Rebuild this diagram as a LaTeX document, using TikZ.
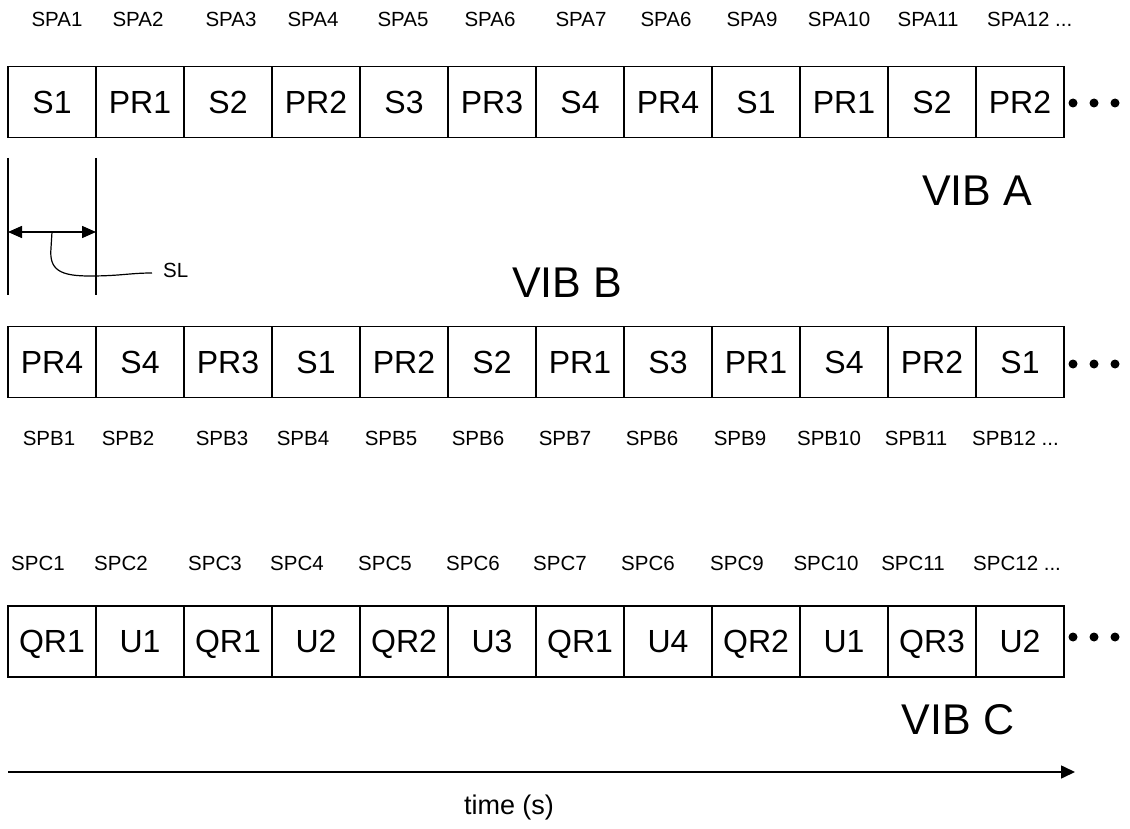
\documentclass[tikz,border=0pt]{standalone}
\usepackage{fontspec}
\setmainfont{Liberation Sans}
\usetikzlibrary{arrows.meta}
\begin{document}
\begin{tikzpicture}[x=1pt,y=-1pt,
  cell/.style={draw,line width=1.8pt,minimum width=88pt,minimum height=71pt,inner sep=0pt,text height=22.5pt,text depth=0pt,font=\fontsize{32}{32}\selectfont},
  lab/.style={font=\fontsize{20.5}{20.5}\selectfont,inner sep=0pt},
  vib/.style={font=\fontsize{43}{43}\selectfont,inner sep=0pt},
  dotnode/.style={circle,fill=black,inner sep=0pt,minimum size=9pt},
  conn/.style={line width=1.6pt}]
\useasboundingbox (0,0) rectangle (1130,829);
% Row A
\foreach \t [count=\i] in {S1,PR1,S2,PR2,S3,PR3,S4,PR4,S1,PR1,S2,PR2}
  \node[cell] (a\i) at ({52+88*(\i-1)},102) {\t};
% Row B
\foreach \t [count=\i] in {PR4,S4,PR3,S1,PR2,S2,PR1,S3,PR1,S4,PR2,S1}
  \node[cell] (b\i) at ({52+88*(\i-1)},362) {\t};
% Row C
\foreach \t [count=\i] in {QR1,U1,QR1,U2,QR2,U3,QR1,U4,QR2,U1,QR3,U2}
  \node[cell] (c\i) at ({52+88*(\i-1)},641.5) {\t};
% dots
\foreach \x [count=\i] in {1073,1094,1115}{
  \node[dotnode] (ad\i) at (\x,103) {};
  \node[dotnode] (bd\i) at (\x,364) {};
  \node[dotnode] (cd\i) at (\x,637) {};
}
% SPA labels
\foreach \x/\t [count=\i] in {57/SPA1,138/SPA2,231/SPA3,313/SPA4,403/SPA5,490/SPA6,581/SPA7,666/SPA6,752/SPA9,839/SPA10,928/SPA11}
  \node[lab] (spa\i) at (\x,19) {\t};
\node[lab,anchor=west] (spa12) at (987,19) {SPA12 ...};
% SPB labels
\foreach \x/\t [count=\i] in {49/SPB1,128/SPB2,222/SPB3,303/SPB4,391/SPB5,478/SPB6,565/SPB7,652/SPB6,740/SPB9,829/SPB10,916/SPB11}
  \node[lab] (spb\i) at (\x,438) {\t};
\node[lab,anchor=west] (spb12) at (972,438) {SPB12 ...};
% SPC labels
\foreach \x/\t [count=\i] in {38/SPC1,121/SPC2,215/SPC3,297/SPC4,385/SPC5,473/SPC6,560/SPC7,648/SPC6,737/SPC9,826/SPC10,913/SPC11}
  \node[lab] (spc\i) at (\x,563) {\t};
\node[lab,anchor=west] (spc12) at (973,563) {SPC12 ...};
% VIB labels
\node[vib] (viba) at (977,191) {VIB A};
\node[vib] (vibb) at (567,283) {VIB B};
\node[vib] (vibc) at (958,720) {VIB C};
% SL dimension
\coordinate (l1) at (8,158); \coordinate (l2) at (8,295);
\coordinate (r1) at (96,158); \coordinate (r2) at (96,295);
\draw[line width=1.2pt] (l1) -- (l2);
\draw[line width=1.2pt] (r1) -- (r2);
\coordinate (sl-l) at (8,232); \coordinate (sl-r) at (96,232);
\draw[conn,{Triangle[length=14pt,width=12pt]}-{Triangle[length=14pt,width=12pt]}] (sl-l) -- (sl-r);
\node[lab,anchor=west] (sl) at (163,270) {SL};
\coordinate (slc) at (52,232);
\coordinate (sle) at (152,273);
\draw[line width=1.2pt] (slc) -- (51,248) .. controls (49,270) and (60,276) .. (90,276) .. controls (120,276) and (130,273) .. (sle);
% time axis
\coordinate (t0) at (8,772); \coordinate (t1) at (1075,772);
\draw[conn,-{Triangle[length=14pt,width=13pt]}] (t0) -- (t1);
\node[font=\fontsize{27}{27}\selectfont,inner sep=0pt] (time) at (509,808) {time (s)};
\end{tikzpicture}
\end{document}
